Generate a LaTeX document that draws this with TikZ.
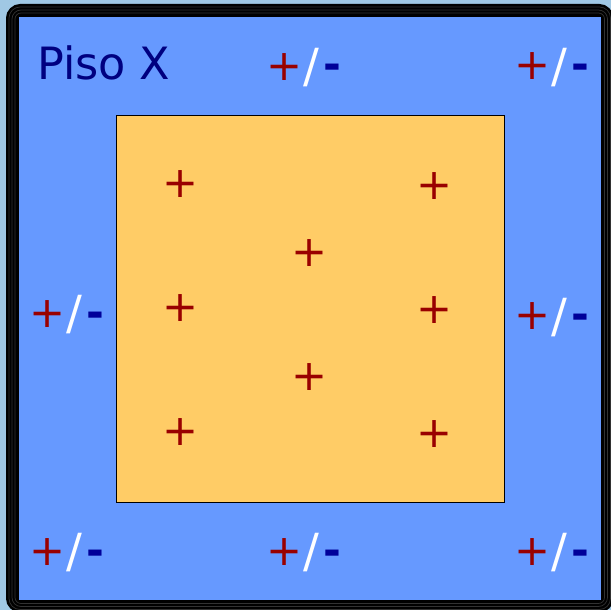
\documentclass[tikz,border=0pt]{standalone}
\usepackage{fontspec}
\setmainfont{DejaVu Sans}
\definecolor{bgout}{RGB}{160,200,228}
\definecolor{floorblue}{RGB}{102,153,255}
\definecolor{roomorange}{RGB}{255,204,102}
\definecolor{plusred}{RGB}{153,0,0}
\definecolor{minusblue}{RGB}{0,0,153}
\definecolor{titlenavy}{RGB}{0,0,128}
\definecolor{stripe}{RGB}{50,50,50}
\tikzset{
  glyph/.style={inner sep=0pt, outer sep=0pt, anchor=center},
  plussign/.style={glyph, text=plusred, font=\fontsize{43}{50}\selectfont},
  slashsign/.style={glyph, text=white, font=\fontsize{47}{54}\selectfont},
  minussign/.style={inner sep=0pt, outer sep=0pt, anchor=base, text=minusblue, font=\bfseries\fontsize{43}{50}\selectfont},
  framestripe/.style={draw=stripe, line width=0.7pt, rounded corners=#1},
}
\newcommand\pmlabel[3]{%
  \node[plussign] (#1p) at (#2,#3) {+};
  \node[slashsign] (#1s) at ({#2+27},{#3+1.3}) {/};
  \node[minussign] (#1m) at ({#2+48.3},{#3+13.3}) {-};
}
\begin{document}
\begin{tikzpicture}[x=1pt,y=-1pt]
\useasboundingbox (0,0) rectangle (611,610);
\clip (0,0) rectangle (611,610);
\fill[bgout] (0,0) rectangle (611,610);
% frame
\draw[line width=13pt, rounded corners=8pt] (12.5,10.5) rectangle (607,606);
\draw[framestripe=11pt] (9,7) rectangle (610.5,609.5);
\draw[framestripe=9pt] (12,10) rectangle (607.5,606.5);
\draw[framestripe=6pt] (15,13) rectangle (604.5,603.5);
% floor
\fill[floorblue] (19,17) rectangle (600.5,599.5);
% room
\node[draw=black, line width=0.8pt, fill=roomorange, inner sep=0pt, minimum width=388pt, minimum height=387pt, anchor=north west] (room) at (116,115) {};
% title
\node[inner sep=0pt, anchor=base west, text=titlenavy, font=\fontsize{44.5}{52}\selectfont] (title) at (37,80) {Piso X};
% inner plus signs
\node[plussign] (p1) at (181,184) {+};
\node[plussign] (p2) at (434.3,186) {+};
\node[plussign] (p3) at (309.3,253.3) {+};
\node[plussign] (p4) at (181,308.3) {+};
\node[plussign] (p5) at (434.3,310) {+};
\node[plussign] (p6) at (309.3,377.3) {+};
\node[plussign] (p7) at (181,432.3) {+};
\node[plussign] (p8) at (434.3,434) {+};
% +/- labels
\pmlabel{tc}{284.3}{66.7}
\pmlabel{tr}{532.5}{66.3}
\pmlabel{ml}{47.5}{313.7}
\pmlabel{mr}{532.5}{316}
\pmlabel{bl}{47.5}{551.7}
\pmlabel{bc}{284.3}{551.7}
\pmlabel{br}{532.5}{551.7}
\end{tikzpicture}
\end{document}
